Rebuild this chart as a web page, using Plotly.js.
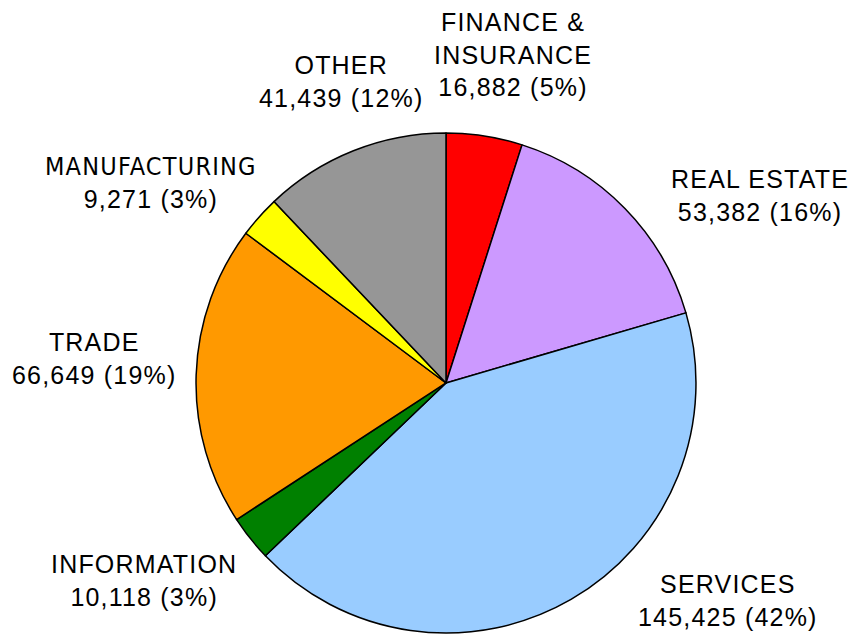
<!DOCTYPE html>
<html><head><meta charset="utf-8">
<script src="https://cdn.plot.ly/plotly-3.0.1.min.js"></script>
<style>
html,body{margin:0;padding:0;background:#fff}
.annotation-text{letter-spacing:1.2px}
</style>
</head><body><div id="chart" style="width:862px;height:637px"></div>
<script>
// ---- data ----
const categories = ["FINANCE &amp;<br>INSURANCE", "REAL ESTATE", "SERVICES", "INFORMATION", "TRADE", "MANUFACTURING", "OTHER"];
const values = [16882, 53382, 145425, 10118, 66649, 9271, 41439];

// ---- styling / layout ----
const colors = ["#FF0000", "#CC99FF", "#99CCFF", "#008000", "#FF9900", "#FFFF00", "#969696"];
const W = 862, H = 637;
// label box centres (pixels)
const labelPos = [[513, 54], [760, 195], [728, 600], [144, 580], [94, 358], [151, 182], [341, 82]];
const narrowFirstLine = [false, false, false, false, false, true, false];

const total = values.reduce((a, b) => a + b, 0);
const annotations = categories.map((c, i) => {
  const pct = Math.round(values[i] / total * 100);
  const name = narrowFirstLine[i]
    ? '<span style="font-family:\'Liberation Sans Narrow\', \'DejaVu Sans Condensed\', sans-serif">' + c + '</span>'
    : c;
  return {
    xref: 'paper', yref: 'paper',
    x: labelPos[i][0] / W, y: 1 - labelPos[i][1] / H,
    xanchor: 'center', yanchor: 'middle', align: 'center',
    showarrow: false,
    text: name + '<br>' + values[i].toLocaleString('en-US') + ' (' + pct + '%)',
    font: {family: 'Liberation Sans, Arial, sans-serif', size: 25, color: '#000'}
  };
});

Plotly.newPlot('chart', [{
  type: 'pie',
  labels: categories,
  values: values,
  sort: false,
  direction: 'clockwise',
  rotation: 0,
  marker: {colors: colors, line: {color: '#000', width: 1.5}},
  textinfo: 'none',
  hoverinfo: 'none',
  domain: {x: [0.2274, 0.8074], y: [0.0063, 0.7912]},
  showlegend: false
}], {
  width: W, height: H,
  margin: {l: 0, r: 0, t: 0, b: 0},
  paper_bgcolor: '#fff',
  showlegend: false,
  annotations: annotations
}, {displayModeBar: false, staticPlot: true});
</script></body></html>
